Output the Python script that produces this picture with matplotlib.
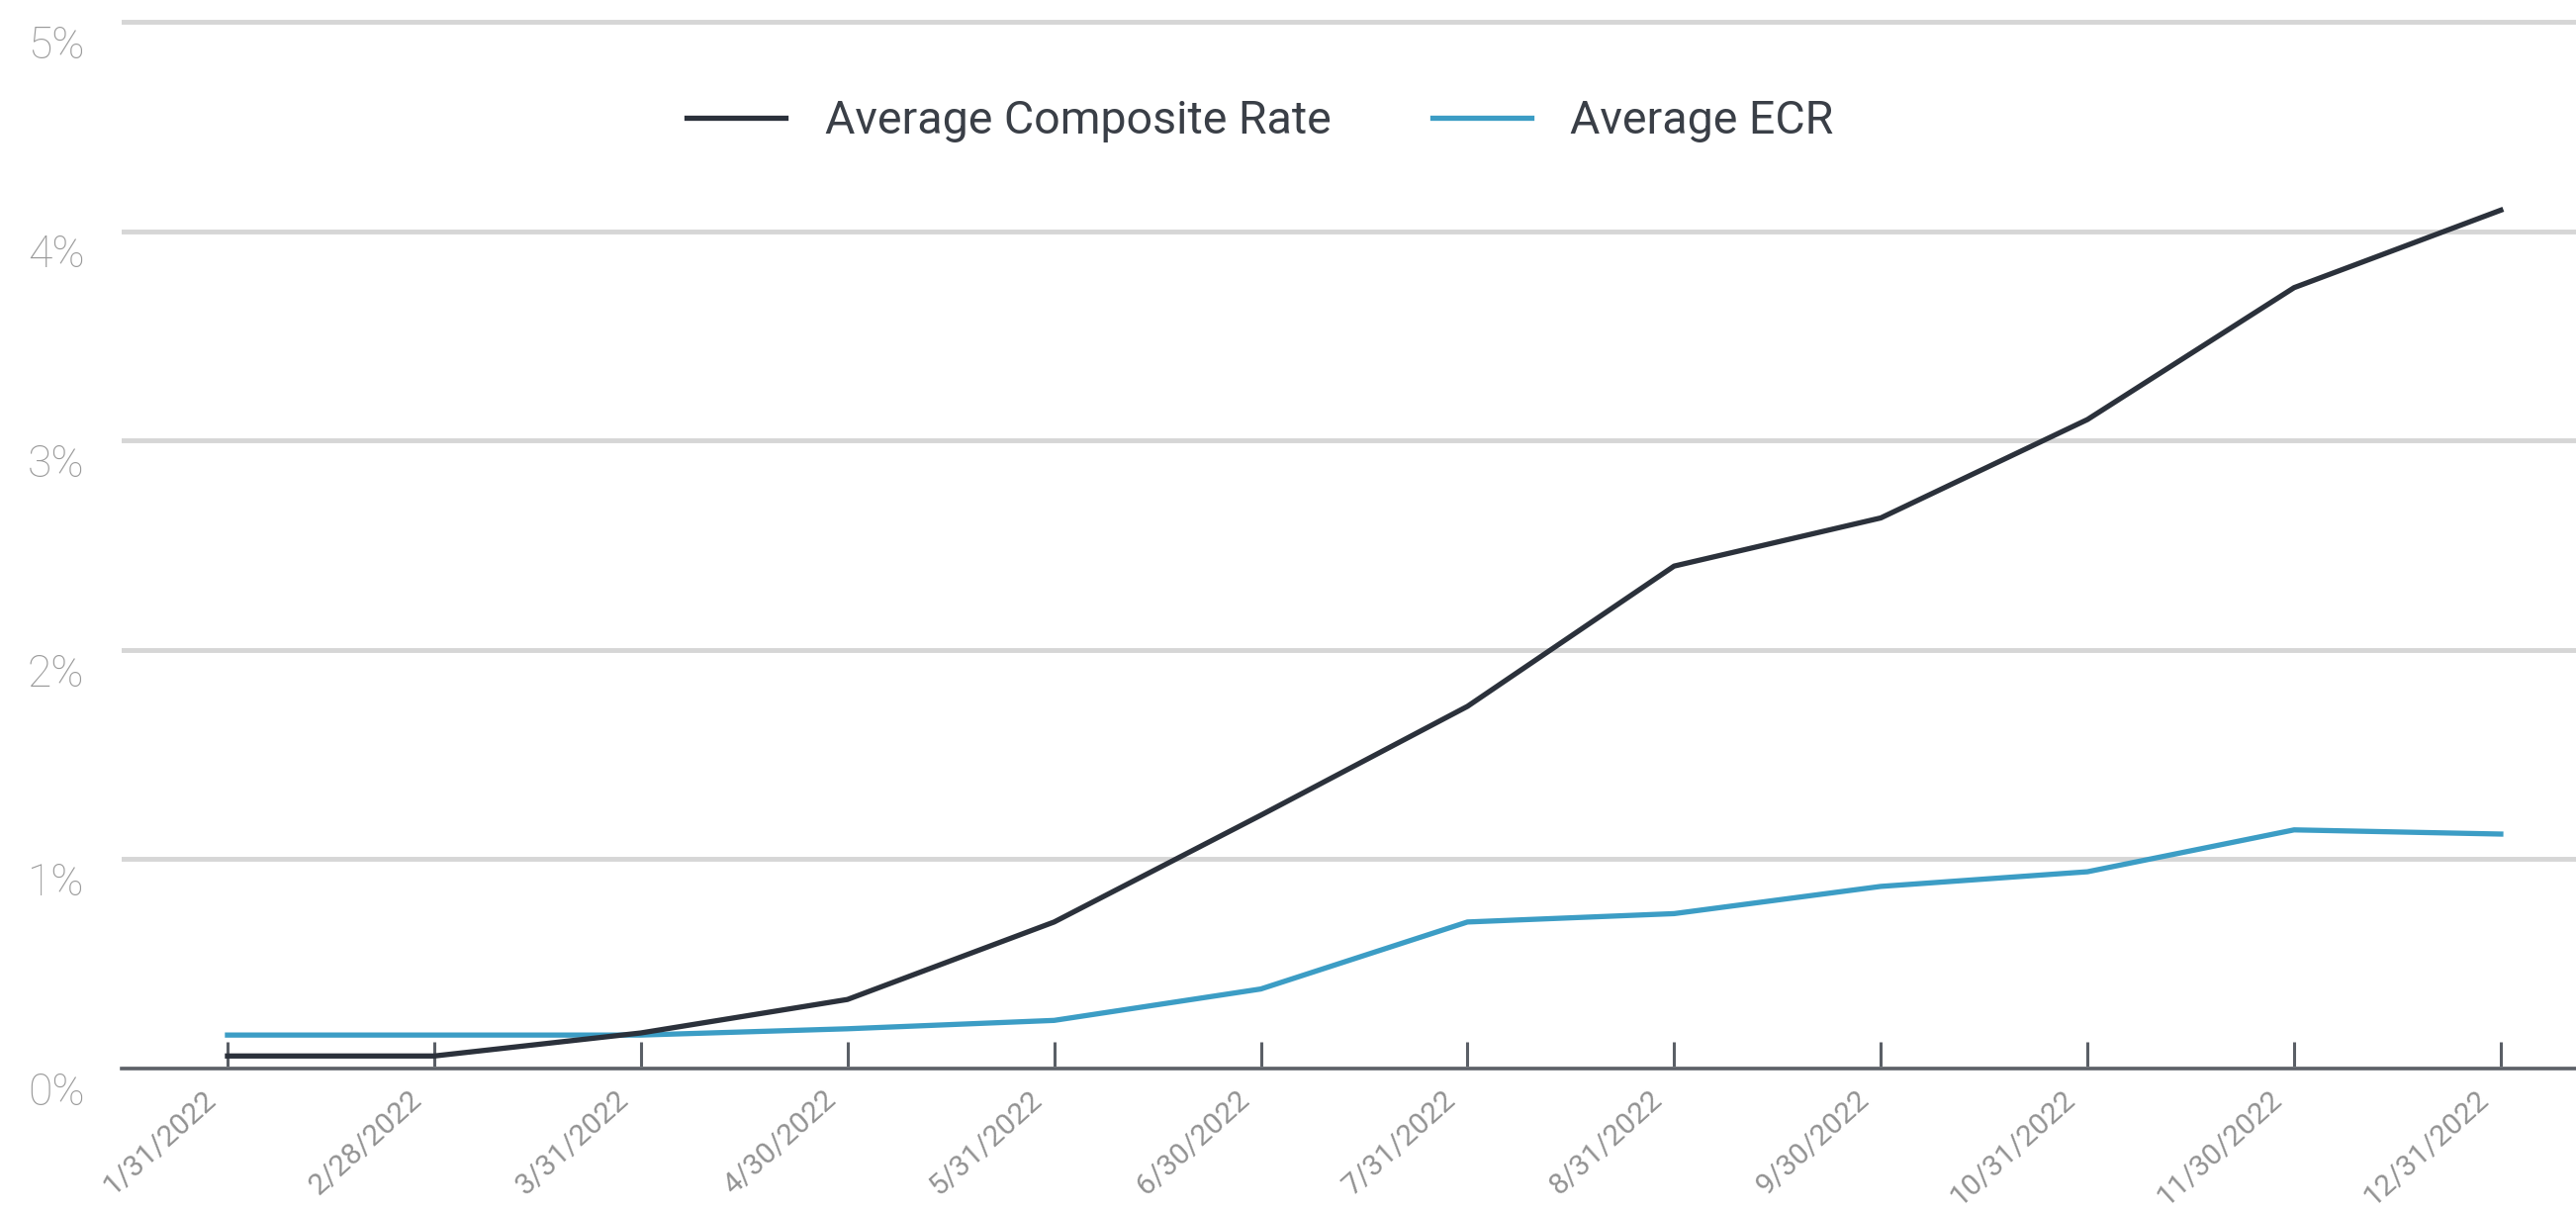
import matplotlib
matplotlib.use("Agg")
import matplotlib.pyplot as plt
from matplotlib.transforms import ScaledTranslation
from matplotlib.ticker import FixedLocator, FuncFormatter

# ---- data ----
dates = ["1/31/2022", "2/28/2022", "3/31/2022", "4/30/2022", "5/31/2022", "6/30/2022",
         "7/31/2022", "8/31/2022", "9/30/2022", "10/31/2022", "11/30/2022", "12/31/2022"]
composite_rate = [0.06, 0.06, 0.17, 0.33, 0.70, 1.21, 1.73, 2.40, 2.63, 3.10, 3.73, 4.10]
ecr_rate = [0.16, 0.16, 0.16, 0.19, 0.23, 0.38, 0.70, 0.74, 0.87, 0.94, 1.14, 1.12]
series_names = ["Average Composite Rate", "Average ECR"]
y_ticks = [0, 1, 2, 3, 4, 5]

plt.rcParams['font.family'] = ['Roboto', 'DejaVu Sans']

W, H = 2604, 1226
DPI = 100
fig = plt.figure(figsize=(W / DPI, H / DPI), dpi=DPI)
left = 123 / W
bottom = (H - 1080) / H
top_px = 11.4
ax = fig.add_axes([left, bottom, 1 - left, (1080 - top_px) / H])

x = list(range(len(dates)))
dark = "#2b313b"
blue = "#3c9dc5"
ax.plot(x, ecr_rate, color=blue, lw=3.8, solid_joinstyle='round', zorder=3, label=series_names[1])
ax.plot(x, composite_rate, color=dark, lw=3.8, solid_joinstyle='round', zorder=4, label=series_names[0])

ax.set_xlim(-0.512, 11.364)
ax.set_ylim(0, 5.05)

ax.yaxis.set_major_locator(FixedLocator(y_ticks))
ax.yaxis.set_major_formatter(FuncFormatter(lambda v, p: f"{int(round(v))}%"))
ax.grid(axis='y', color='#d6d6d6', lw=3.5)
ax.set_axisbelow(True)

for s in ['left', 'top', 'right']:
    ax.spines[s].set_visible(False)
ax.spines['bottom'].set_color('#5d6168')
ax.spines['bottom'].set_linewidth(2.6)
ax.spines['bottom'].set_zorder(5)

ax.tick_params(axis='y', length=0, pad=27, labelsize=32, labelcolor='#999999')
for lab in ax.get_yticklabels():
    lab.set_fontweight('light')
    lab.set_transform(lab.get_transform() + ScaledTranslation(0, -20 / DPI, fig.dpi_scale_trans))

ax.set_xticks(x)
ax.set_xticklabels(dates)
ax.tick_params(axis='x', direction='in', length=19.4, width=2.2, color='#5a5f66',
               pad=20, labelsize=21.5, labelcolor='#929292')
for lab in ax.get_xticklabels():
    lab.set_rotation(42)
    lab.set_ha('right')
    lab.set_va('center')
    lab.set_rotation_mode('anchor')
    lab.set_transform(lab.get_transform() + ScaledTranslation(-16 / DPI, 0, fig.dpi_scale_trans))

handles, labels = ax.get_legend_handles_labels()
order = [1, 0]
leg = fig.legend([handles[i] for i in order], [labels[i] for i in order],
                 loc='center left', bbox_to_anchor=(694 / W, 1 - 122 / H),
                 ncol=2, frameon=False, fontsize=33.5, borderpad=0, borderaxespad=0,
                 handlelength=2.15, handletextpad=0.85, columnspacing=2.2)
for t in leg.get_texts():
    t.set_color('#3a3f47')

fig.savefig("out.png", dpi=DPI, facecolor='white')
